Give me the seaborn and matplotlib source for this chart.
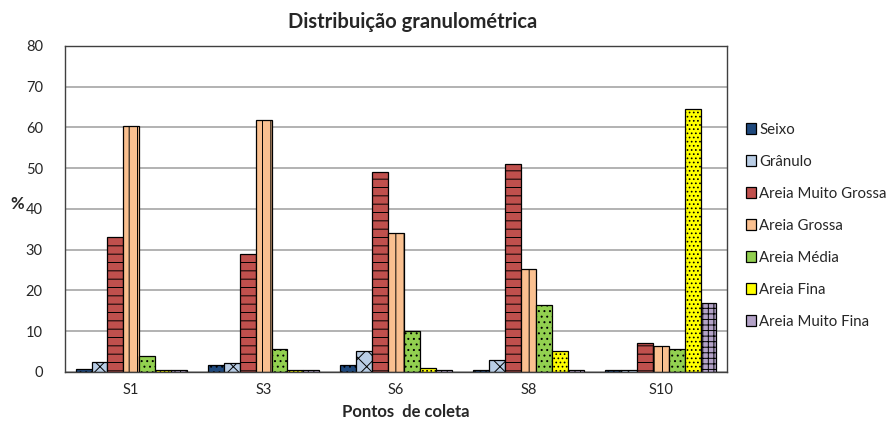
import seaborn as sns
import pandas as pd
import numpy as np
import matplotlib.pyplot as plt

# data
pontos = ['S1', 'S3', 'S6', 'S8', 'S10']
fracoes = ['Seixo', 'Grânulo', 'Areia Muito Grossa', 'Areia Grossa',
           'Areia Média', 'Areia Fina', 'Areia Muito Fina']

seixo = [0.7, 1.8, 1.8, 0.5, 0.5]
granulo = [2.5, 2.2, 5.2, 2.8, 0.5]
areia_muito_grossa = [33.0, 29.0, 49.0, 51.0, 7.0]
areia_grossa = [60.3, 61.8, 34.0, 25.2, 6.3]
areia_media = [4.0, 5.5, 10.0, 16.5, 5.5]
areia_fina = [0.5, 0.5, 1.0, 5.2, 64.5]
areia_muito_fina = [0.5, 0.5, 0.5, 0.5, 17.0]

cores = ['#1F497D', '#B9CDE5', '#C0504D', '#FAC090', '#92D050', '#FFFF00', '#B3A2C7']
hachuras = ['...', 'xx', '--', '||', '...', '....', '+++']

valores = [seixo, granulo, areia_muito_grossa, areia_grossa,
           areia_media, areia_fina, areia_muito_fina]

df = pd.DataFrame({
    'ponto': np.repeat([pontos], len(fracoes), axis=0).ravel(),
    'fracao': np.repeat(fracoes, len(pontos)),
    'pct': np.concatenate(valores),
})

sns.set_style('white')
plt.rcParams['font.family'] = ['Lato', 'DejaVu Sans']
plt.rcParams['hatch.linewidth'] = 0.7

fig = plt.figure(figsize=(8.91, 4.25), dpi=100)
ax = fig.add_axes([0.073, 0.125, 0.743, 0.767])

sns.barplot(data=df, x='ponto', y='pct', hue='fracao', hue_order=fracoes,
            order=pontos, palette=cores, width=0.84, gap=0, ax=ax,
            edgecolor='black', linewidth=0.9, saturation=1, legend=True)

for cont, h in zip(ax.containers, hachuras):
    for bar in cont:
        bar.set_hatch(h)

ax.set_ylim(0, 80)
ax.set_xlim(-0.5, 4.5)
ax.set_yticks(range(0, 81, 10))
ax.yaxis.grid(True, color='#A6A6A6', linewidth=1.2)
ax.set_axisbelow(True)
for s in ax.spines.values():
    s.set_visible(True)
    s.set_color('#404040')
    s.set_linewidth(1.0)

ax.tick_params(axis='x', which='major', length=0, labelsize=10.5, pad=8)
ax.tick_params(axis='y', labelsize=10.5, length=0, pad=16)
ax.set_xticks(np.arange(-0.5, 5, 1), minor=True)
ax.tick_params(axis='x', which='minor', length=6, color='#808080', direction='out')

ax.set_title('Distribuição granulométrica', fontsize=14.5, fontweight='bold',
             pad=13, x=0.525)
ax.set_xlabel('Pontos  de coleta', fontsize=12, fontweight='bold', labelpad=6)
ax.xaxis.set_label_coords(0.515, -0.1)
ax.set_ylabel('%', fontsize=12, fontweight='bold', rotation=0)
ax.yaxis.set_label_coords(-0.072, 0.49)

handles, labels = ax.get_legend_handles_labels()
ax.get_legend().remove()
fig.legend(handles, labels, loc='upper left', bbox_to_anchor=(0.83, 0.725),
           frameon=False, fontsize=10.8, handlelength=0.7, handleheight=0.7,
           handletextpad=0.2, labelspacing=1.2, borderaxespad=0)

plt.savefig('out.png', dpi=100)
